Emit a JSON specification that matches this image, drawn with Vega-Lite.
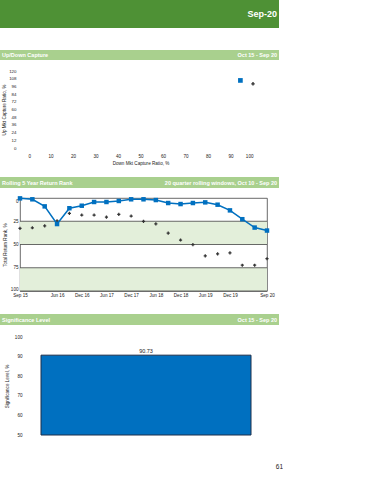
{
  "$schema": "https://vega.github.io/schema/vega-lite/v6.json",
  "padding": 0,
  "background": "white",
  "config": {
    "font": "Liberation Sans",
    "view": {"stroke": null},
    "axis": {
      "labelFont": "Liberation Sans",
      "titleFont": "Liberation Sans",
      "labelFontSize": 4.6,
      "titleFontSize": 4.6,
      "labelColor": "#222222",
      "titleColor": "#222222",
      "titleFontWeight": "normal",
      "labelOverlap": false,
      "ticks": false,
      "domain": false,
      "grid": false
    },
    "text": {"font": "Liberation Sans"}
  },
  "vconcat": [
    {
      "width": 279,
      "height": 28,
      "view": {"fill": "#4e9135", "stroke": null},
      "data": {"values": [{"t": "Sep-20"}]},
      "mark": {"type": "text", "align": "right", "dx": -2, "fontWeight": "bold", "fontSize": 9, "color": "white"},
      "encoding": {"x": {"value": "width"}, "text": {"field": "t", "type": "nominal"}}
    },
    {
      "vconcat": [
        {
          "vconcat": [
            {
              "vconcat": [
                {
                  "vconcat": [
                    {
                      "width": 279,
                      "height": 10,
                      "view": {"fill": "#a9d08e", "stroke": null},
                      "layer": [
                        {
                          "data": {"values": [{"t": "Up/Down Capture"}]},
                          "mark": {"type": "text", "align": "left", "dx": 2, "fontWeight": "bold", "fontSize": 5.5, "color": "white"},
                          "encoding": {"x": {"value": 0}, "text": {"field": "t", "type": "nominal"}}
                        },
                        {
                          "data": {"values": [{"t": "Oct 15 - Sep 20"}]},
                          "mark": {"type": "text", "align": "right", "dx": -2, "fontWeight": "bold", "fontSize": 5.5, "color": "white"},
                          "encoding": {"x": {"value": "width"}, "text": {"field": "t", "type": "nominal"}}
                        }
                      ]
                    },
                    {
                      "hconcat": [
                        {
                          "width": 1,
                          "height": 1,
                          "data": {"values": []},
                          "mark": "point"
                        },
                        {
                          "width": 225,
                          "height": 77,
                          "data": {"values": [
                            {"series": "Fund", "down": 94.4, "up": 105.3},
                            {"series": "Benchmark", "down": 100, "up": 100}
                          ]},
                          "mark": {"type": "point", "filled": true, "opacity": 1},
                          "encoding": {
                            "x": {"field": "down", "type": "quantitative", "scale": {"domain": [0, 100], "nice": false},
                              "axis": {"values": [0, 10, 20, 30, 40, 50, 60, 70, 80, 90, 100], "title": "Down Mkt Capture Ratio, %", "labelPadding": 5, "titlePadding": 3}},
                            "y": {"field": "up", "type": "quantitative", "scale": {"domain": [0, 120], "nice": false},
                              "axis": {"values": [0, 12, 24, 36, 48, 60, 72, 84, 96, 108, 120], "title": "Up Mkt Capture Ratio, %", "labelFontSize": 4.4, "offset": 10, "labelPadding": 2, "titlePadding": 2}},
                            "shape": {"field": "series", "type": "nominal", "scale": {"domain": ["Fund", "Benchmark"], "range": ["square", "cross"]}, "legend": null},
                            "color": {"field": "series", "type": "nominal", "scale": {"domain": ["Fund", "Benchmark"], "range": ["#0070c0", "#333333"]}, "legend": null},
                            "size": {"field": "series", "type": "nominal", "scale": {"domain": ["Fund", "Benchmark"], "range": [22, 12]}, "legend": null}
                          }
                        }
                      ],
                      "spacing": 0
                    }
                  ],
                  "spacing": 8
                },
                {
                  "vconcat": [
                    {
                      "width": 279,
                      "height": 11,
                      "view": {"fill": "#a9d08e", "stroke": null},
                      "layer": [
                        {
                          "data": {"values": [{"t": "Rolling 5 Year Return Rank"}]},
                          "mark": {"type": "text", "align": "left", "dx": 2, "fontWeight": "bold", "fontSize": 5.5, "color": "white"},
                          "encoding": {"x": {"value": 0}, "text": {"field": "t", "type": "nominal"}}
                        },
                        {
                          "data": {"values": [{"t": "20 quarter rolling windows, Oct 10 - Sep 20"}]},
                          "mark": {"type": "text", "align": "right", "dx": -2, "fontWeight": "bold", "fontSize": 5.5, "color": "white"},
                          "encoding": {"x": {"value": "width"}, "text": {"field": "t", "type": "nominal"}}
                        }
                      ]
                    },
                    {
                      "hconcat": [
                        {
                          "width": 1,
                          "height": 1,
                          "data": {"values": []},
                          "mark": "point"
                        },
                        {
                          "width": 247,
                          "height": 93,
                          "view": {"stroke": "#444444", "strokeWidth": 0.8},
                          "data": {"values": [
                            {"q": "Sep 15", "fund": 0.4, "bench": 32.7},
                            {"q": "Dec 15", "fund": 1.4, "bench": 32},
                            {"q": "Mar 16", "fund": 9, "bench": 29.9},
                            {"q": "Jun 16", "fund": 28, "bench": 24.5},
                            {"q": "Sep 16", "fund": 11, "bench": 16.5},
                            {"q": "Dec 16", "fund": 8.3, "bench": 18.3},
                            {"q": "Mar 17", "fund": 4.3, "bench": 18.3},
                            {"q": "Jun 17", "fund": 4.3, "bench": 20.5},
                            {"q": "Sep 17", "fund": 3.2, "bench": 17.6},
                            {"q": "Dec 17", "fund": 1.4, "bench": 19.4},
                            {"q": "Mar 18", "fund": 1.4, "bench": 25.2},
                            {"q": "Jun 18", "fund": 2.2, "bench": 27.8},
                            {"q": "Sep 18", "fund": 5.4, "bench": 37.8},
                            {"q": "Dec 18", "fund": 6.5, "bench": 45.2},
                            {"q": "Mar 19", "fund": 5.4, "bench": 50.2},
                            {"q": "Jun 19", "fund": 4.7, "bench": 62.2},
                            {"q": "Sep 19", "fund": 7.2, "bench": 60},
                            {"q": "Dec 19", "fund": 13.3, "bench": 59},
                            {"q": "Mar 20", "fund": 22.8, "bench": 72.3},
                            {"q": "Jun 20", "fund": 31.8, "bench": 72.3},
                            {"q": "Sep 20", "fund": 35, "bench": 65.3}
                          ]},
                          "layer": [
                            {
                              "data": {"values": [{"from": 25, "to": 50}, {"from": 75, "to": 100}]},
                              "mark": {"type": "rect", "fill": "#e3efda"},
                              "encoding": {
                                "y": {"field": "from", "type": "quantitative", "title": "Total Return Rank, %",
                                  "scale": {"domain": [0, 100], "reverse": true, "nice": false},
                                  "axis": {"values": [0, 25, 50, 75, 100], "tickCount": 5, "labelOverlap": false, "labelPadding": 2, "titlePadding": 3, "labelFlush": true}},
                                "y2": {"field": "to"}
                              }
                            },
                            {
                              "data": {"values": [{"v": 25}, {"v": 50}, {"v": 75}, {"v": 100}]},
                              "mark": {"type": "rule", "color": "#444444", "strokeWidth": 0.8},
                              "encoding": {
                                "y": {"field": "v", "type": "quantitative", "title": "Total Return Rank, %",
                                  "axis": {"values": [0, 25, 50, 75, 100], "tickCount": 5, "labelOverlap": false, "labelPadding": 2, "titlePadding": 3, "labelFlush": true}}
                              }
                            },
                            {
                              "mark": {"type": "point", "shape": "cross", "filled": true, "color": "#333333", "size": 10, "opacity": 1},
                              "encoding": {
                                "x": {"field": "q", "type": "ordinal", "sort": null, "scale": {"type": "point", "padding": 0},
                                  "axis": {"values": ["Sep 15", "Jun 16", "Dec 16", "Jun 17", "Dec 17", "Jun 18", "Dec 18", "Jun 19", "Dec 19", "Sep 20"], "labelAngle": 0, "title": null, "labelPadding": 1}},
                                "y": {"field": "bench", "type": "quantitative", "title": "Total Return Rank, %",
                                  "axis": {"values": [0, 25, 50, 75, 100], "tickCount": 5, "labelOverlap": false, "labelPadding": 2, "titlePadding": 3, "labelFlush": true}}
                              }
                            },
                            {
                              "mark": {"type": "line", "color": "#0070c0", "strokeWidth": 1.5,
                                "point": {"shape": "square", "size": 20, "filled": true, "color": "#0070c0", "opacity": 1}},
                              "encoding": {
                                "x": {"field": "q", "type": "ordinal", "sort": null},
                                "y": {"field": "fund", "type": "quantitative", "title": "Total Return Rank, %",
                                  "axis": {"values": [0, 25, 50, 75, 100], "tickCount": 5, "labelOverlap": false, "labelPadding": 2, "titlePadding": 3, "labelFlush": true}}
                              }
                            }
                          ]
                        }
                      ],
                      "spacing": 0
                    }
                  ],
                  "spacing": 6
                }
              ],
              "spacing": 11
            },
            {
              "vconcat": [
                {
                  "width": 279,
                  "height": 11,
                  "view": {"fill": "#a9d08e", "stroke": null},
                  "layer": [
                    {
                      "data": {"values": [{"t": "Significance Level"}]},
                      "mark": {"type": "text", "align": "left", "dx": 2, "fontWeight": "bold", "fontSize": 5.5, "color": "white"},
                      "encoding": {"x": {"value": 0}, "text": {"field": "t", "type": "nominal"}}
                    },
                    {
                      "data": {"values": [{"t": "Oct 15 - Sep 20"}]},
                      "mark": {"type": "text", "align": "right", "dx": -2, "fontWeight": "bold", "fontSize": 5.5, "color": "white"},
                      "encoding": {"x": {"value": "width"}, "text": {"field": "t", "type": "nominal"}}
                    }
                  ]
                },
                {
                  "hconcat": [
                    {
                      "width": 1,
                      "height": 1,
                      "data": {"values": []},
                      "mark": "point"
                    },
                    {
                      "width": 210,
                      "height": 98,
                      "data": {"values": [{"cat": "Fund", "sig": 90.73}]},
                      "encoding": {
                        "x": {"field": "cat", "type": "nominal", "axis": null, "scale": {"paddingInner": 0, "paddingOuter": 0}},
                        "y": {"field": "sig", "type": "quantitative", "title": "Significance Level, %",
                          "scale": {"domain": [50, 100], "nice": false, "zero": false},
                          "axis": {"values": [50, 60, 70, 80, 90, 100], "offset": 16, "labelPadding": 3, "titlePadding": 5}}
                      },
                      "layer": [
                        {
                          "mark": {"type": "bar", "fill": "#0070c0", "stroke": "#1c2e4a", "strokeWidth": 1},
                          "encoding": {"y2": {"datum": 50}}
                        },
                        {
                          "mark": {"type": "text", "dy": -4, "fontSize": 5.5, "color": "#222222"},
                          "encoding": {"text": {"field": "sig", "type": "quantitative", "format": ".2f"}}
                        }
                      ]
                    }
                  ],
                  "spacing": 3
                }
              ],
              "spacing": 9
            }
          ],
          "spacing": 17
        },
        {
          "width": 283,
          "height": 8,
          "data": {"values": [{"t": "61"}]},
          "mark": {"type": "text", "align": "right", "fontSize": 6.5, "color": "#222222"},
          "encoding": {"x": {"value": "width"}, "text": {"field": "t", "type": "nominal"}}
        }
      ],
      "spacing": 26
    }
  ],
  "spacing": 22
}
